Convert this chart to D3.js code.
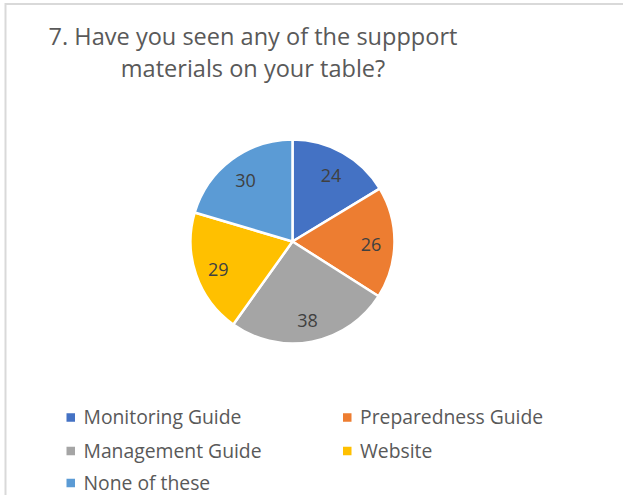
<!DOCTYPE html>
<html>
<head>
<meta charset="utf-8">
<script src="https://cdn.jsdelivr.net/npm/d3@7"></script>
<style>
  html, body { margin: 0; padding: 0; background: #fff; }
  svg { display: block; }
  text { font-family: "Open Sans", "Noto Sans", sans-serif; }
</style>
</head>
<body>
<svg id="chart" width="623" height="495"></svg>
<script>
// Survey answers
const categories = ["Monitoring Guide", "Preparedness Guide", "Management Guide", "Website", "None of these"];
const counts = [24, 26, 38, 29, 30];
const colors = ["#4472C4", "#ED7D31", "#A5A5A5", "#FFC000", "#5B9BD5"];
const titleLines = ["7. Have you seen any of the suppport", "materials on your table?"];

const svg = d3.select("#chart");
const W = 623, H = 495;

// chart area frame
svg.append("rect")
  .attr("x", 5.5).attr("y", 4)
  .attr("width", W + 20).attr("height", H + 20)
  .attr("fill", "#fff")
  .attr("stroke", "#d9d9d9")
  .attr("stroke-width", 2);

// horizontal squeeze factor so that a text spans the target width
function squeezeFor(sel, target) {
  return target / sel.node().getComputedTextLength();
}

// title (centred over its own box, slightly condensed)
const titleX = 253;
const titleSize = 23.5;
const tLines = svg.append("g").selectAll("text").data(titleLines).join("text")
  .attr("text-anchor", "middle")
  .attr("font-size", titleSize)
  .attr("fill", "#595959")
  .text(d => d);
const tsx = squeezeFor(tLines.filter((d, i) => i === 0), 409);
tLines.attr("transform", (d, i) => `translate(${titleX},${[44.5, 77][i]}) scale(${tsx},1)`);

// pie
const cx = 292.5, cy = 241.5, r = 102;
const data = categories.map((c, i) => ({ name: c, value: counts[i], color: colors[i] }));
const pie = d3.pie().value(d => d.value).sort(null);
const arcs = pie(data);
const arc = d3.arc().innerRadius(0).outerRadius(r);
const labelArc = d3.arc().innerRadius(r * 0.77).outerRadius(r * 0.77);

const g = svg.append("g").attr("transform", `translate(${cx},${cy})`);
g.selectAll("path.slice").data(arcs).join("path")
  .attr("class", "slice")
  .attr("d", arc)
  .attr("fill", d => d.data.color)
  .attr("stroke", "#fff")
  .attr("stroke-width", 2.5)
  .attr("stroke-linejoin", "round");

g.selectAll("text.val").data(arcs).join("text")
  .attr("class", "val")
  .attr("transform", d => {
    const [x, y] = labelArc.centroid(d);
    return `translate(${x},${y + 2})`;
  })
  .attr("text-anchor", "middle")
  .attr("dy", "0.36em")
  .attr("font-size", 18)
  .attr("fill", "#404040")
  .text(d => d.data.value);

// legend: two columns, rows filled left to right
const legendCols = [66.5, 343];
const legendRows = [417.5, 451, 483];
const legendFont = 19.5;
const items = svg.append("g").selectAll("g.item").data(data).join("g")
  .attr("class", "item")
  .attr("transform", (d, i) => `translate(${legendCols[i % 2]},${legendRows[Math.floor(i / 2)]})`);
items.append("rect")
  .attr("x", 0).attr("y", -4.25).attr("width", 8.5).attr("height", 8.5)
  .attr("fill", d => d.color);
const ltext = items.append("text")
  .attr("dy", "0.35em")
  .attr("font-size", legendFont)
  .attr("fill", "#595959")
  .text(d => d.name);
const lsx = squeezeFor(ltext.filter((d, i) => i === 0), 158);
ltext.attr("transform", `translate(17,0) scale(${lsx},1)`);
</script>
</body>
</html>
